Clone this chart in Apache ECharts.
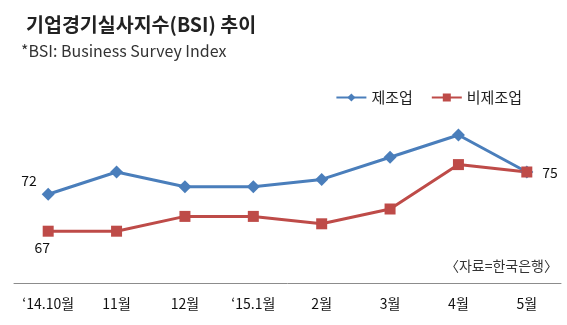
<!DOCTYPE html>
<html><head><meta charset="utf-8">
<script src="https://cdn.jsdelivr.net/npm/echarts@6/dist/echarts.min.js"></script>
<style>html,body{margin:0;padding:0;background:#fff}#c{width:567px;height:325px}</style>
</head><body><div id="c"></div>
<script>
const categories = ["‘14.10월","11월","12월","‘15.1월","2월","3월","4월","5월"];
const manufacturing = [72,75,73,73,74,77,80,75];
const nonManufacturing = [67,67,69,69,68,70,76,75];
const seriesNames = ["제조업","비제조업"];
const FONT = "Noto Sans CJK KR";

function withLabels(arr, first, last){
  return arr.map((v,i)=>{
    if(i===0 && first) return {value:v,label:Object.assign({show:true},first)};
    if(i===arr.length-1 && last) return {value:v,label:Object.assign({show:true},last)};
    return v;
  });
}
const chart = echarts.init(document.getElementById('c'));
chart.setOption({
  animation:false,
  textStyle:{fontFamily:FONT},
  title:[
    {text:"기업경기실사지수(BSI) 추이",left:21,top:10,textStyle:{fontFamily:FONT,fontSize:19.5,fontWeight:'bold',color:'#222'}},
    {text:"*BSI: Business Survey Index",left:16,top:38,textStyle:{fontFamily:FONT,fontSize:16,fontWeight:'normal',color:'#333'}}
  ],
  legend:{right:40,top:85,itemWidth:30,itemHeight:10,itemGap:18,
    textStyle:{fontFamily:FONT,fontSize:15,color:'#222'},data:seriesNames},
  graphic:[{type:'text',right:9,top:259,style:{text:"〈자료=한국은행〉",font:"14px "+FONT,fill:'#333'}}],
  grid:{left:14,right:6,top:98,bottom:42},
  xAxis:{type:'category',data:categories,boundaryGap:true,
    axisLine:{lineStyle:{color:'#8c8c8c',width:1}},axisTick:{show:false},
    axisLabel:{margin:14,fontFamily:FONT,fontSize:14,color:'#111'}},
  yAxis:{type:'value',min:60,max:85,show:false,splitLine:{show:false}},
  series:[
    {name:seriesNames[0],type:'line',symbol:'diamond',symbolSize:13,
     lineStyle:{width:3,color:'#4A7EBB'},itemStyle:{color:'#4A7EBB'},
     label:{fontFamily:FONT,fontSize:14,color:'#111'},
     data:withLabels(manufacturing,{position:'left',offset:[0,-14]},null)},
    {name:seriesNames[1],type:'line',symbol:'rect',symbolSize:11,
     lineStyle:{width:3,color:'#BE4B48'},itemStyle:{color:'#BE4B48'},
     label:{fontFamily:FONT,fontSize:14,color:'#111'},
     data:withLabels(nonManufacturing,{position:'bottom',offset:[-6,-1]},{position:'right',offset:[5,1]})}
  ]
});
</script></body></html>
